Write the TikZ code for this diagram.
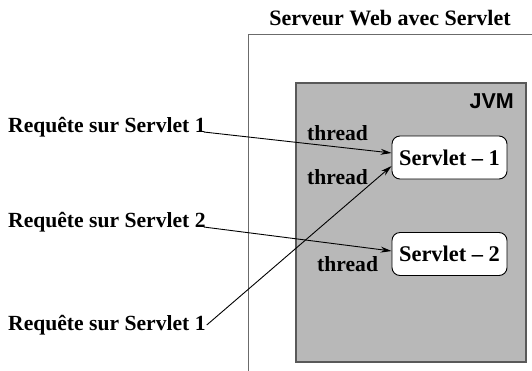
\documentclass[tikz,border=0pt]{standalone}
\usepackage{fontspec}
\setmainfont{Liberation Serif}
\newfontfamily\arialfont{Liberation Sans}
\usetikzlibrary{arrows.meta,calc}
\definecolor{jvmfill}{gray}{0.72}
\definecolor{frame}{gray}{0.42}
\tikzset{
  lbl/.style={inner sep=0pt, font=\fontsize{21.6}{24}\selectfont\bfseries},
  servletbox/.style={draw=black, fill=white, rounded corners=8pt, line width=0.9pt,
     minimum width=115pt, minimum height=43pt, inner sep=0pt,
     font=\fontsize{22.4}{24}\selectfont\bfseries},
  req/.style={line width=0.9pt, -{Stealth[length=11pt,width=6pt]}},
}
\begin{document}
\begin{tikzpicture}[x=1pt,y=-1pt]
\useasboundingbox (0,0) rectangle (532,370);
% outer server box
\draw[frame, line width=1pt] (532,34) -- (248,34) -- (248,371);
\node[lbl, anchor=base, font=\fontsize{22}{24}\selectfont\bfseries] (title) at (390,25) {Serveur Web avec Servlet};
% JVM box
\draw[draw=black!65, line width=1.4pt, fill=jvmfill] (296,83) rectangle (526,362);
\node[inner sep=0pt, anchor=base east, font=\arialfont\fontsize{21.5}{24}\selectfont\bfseries] (jvm) at (514,108) {JVM};
% servlets
\node[servletbox] (s1) at (449.5,157.5) {Servlet -- 1};
\node[servletbox] (s2) at (449.5,254) {Servlet -- 2};
% thread labels
\node[lbl, anchor=base west] (t1) at (307,140) {thread};
\node[lbl, anchor=base west] (t2) at (307,184) {thread};
\node[lbl, anchor=base west] (t3) at (317,271) {thread};
% requests
\node[lbl, anchor=base west] (r1) at (8,132) {Requête sur Servlet 1};
\node[lbl, anchor=base west] (r2) at (8,227) {Requête sur Servlet 2};
\node[lbl, anchor=base west] (r3) at (8,330) {Requête sur Servlet 1};
\draw[req] ([xshift=-2pt]r1.base east) -- ([yshift=4.5pt]s1.west);
\draw[req] ([xshift=-2pt]r2.base east) -- ([yshift=3pt]s2.west);
\draw[req] ([xshift=1pt,yshift=5pt]r3.base east) -- ([yshift=-8.5pt]s1.west);
\end{tikzpicture}
\end{document}
